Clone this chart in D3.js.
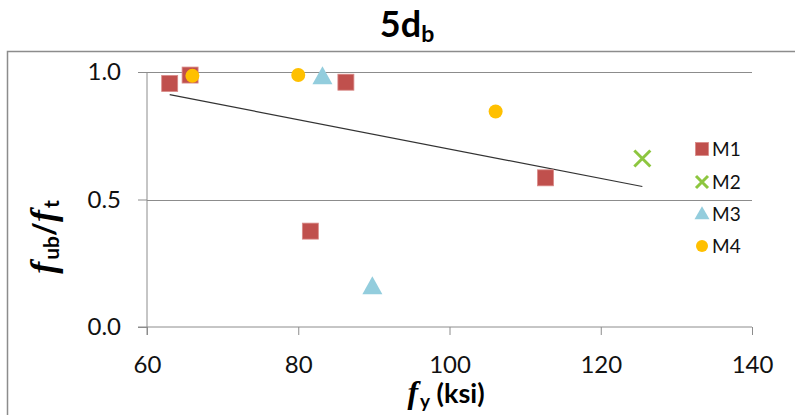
<!DOCTYPE html>
<html><head><meta charset="utf-8">
<script src="https://cdn.jsdelivr.net/npm/d3@7"></script>
<style>
html,body{margin:0;padding:0;background:#fff;}
svg{display:block;}
text{font-family:Lato,"Open Sans",sans-serif;}
</style></head>
<body>
<div id="chart"></div>
<script>
const title = "5d";
const titleSub = "b";
const seriesNames = ["M1","M2","M3","M4"];
const m1X = [63.0, 65.7, 86.3, 81.6, 112.7];
const m1Y = [0.955, 0.988, 0.960, 0.376, 0.585];
const m2X = [125.5];
const m2Y = [0.661];
const m3X = [83.2, 89.8];
const m3Y = [0.980, 0.157];
const m4X = [66.0, 80.0, 106.1];
const m4Y = [0.985, 0.988, 0.845];
const trendX = [63.0, 125.5];
const trendY = [0.911, 0.551];
const xTicks = [60, 80, 100, 120, 140];
const yTicks = [0.0, 0.5, 1.0];

const W = 795, H = 415;
const svg = d3.select("#chart").append("svg").attr("width", W).attr("height", H);

const x = d3.scaleLinear().domain([60, 140]).range([147, 752]);
const y = d3.scaleLinear().domain([0, 1]).range([327, 72]);

// outer frame
svg.append("rect").attr("x", 7.5).attr("y", 51.5).attr("width", 820).attr("height", 400)
  .attr("fill", "none").attr("stroke", "#8c8c8c").attr("stroke-width", 1.5);

// title
const t = svg.append("text").attr("x", 407).attr("y", 37).attr("text-anchor", "middle")
  .attr("font-size", 36).attr("font-weight", "bold").attr("fill", "#000");
t.append("tspan").text(title);
t.append("tspan").attr("font-size", 23).attr("dy", 5).text(titleSub);

// gridlines
svg.append("g").selectAll("line").data(yTicks.filter(d => d > 0)).join("line")
  .attr("x1", x(60)).attr("x2", x(140)).attr("y1", d => Math.round(y(d)) + 0.5).attr("y2", d => Math.round(y(d)) + 0.5)
  .attr("stroke", "#8c8c8c").attr("stroke-width", 1);

// axes
const yAxis = d3.axisLeft(y).tickValues(yTicks).tickFormat(d3.format(".1f")).tickSize(9).tickPadding(17);
const gy = svg.append("g").attr("transform", `translate(${x(60)},0)`).call(yAxis);
gy.select(".domain").attr("stroke", "#8c8c8c").attr("d", `M0,${y(1)}V${y(0)+8}`);
gy.selectAll(".tick line").attr("stroke", "#8c8c8c");
gy.selectAll("text").attr("font-size", 24).attr("fill", "#111").attr("font-family", "Lato");

const xAxis = d3.axisBottom(x).tickValues(xTicks).tickSize(8).tickPadding(21);
const gx = svg.append("g").attr("transform", `translate(0,${y(0)})`).call(xAxis);
gx.select(".domain").attr("stroke", "#8c8c8c").attr("d", `M${x(60)-9},0H${x(140)}`);
gx.selectAll(".tick line").attr("stroke", "#8c8c8c");
gx.selectAll("text").attr("font-size", 24).attr("fill", "#111").attr("font-family", "Lato");

// axis titles
const xl = svg.append("text").attr("x", 446).attr("y", 403).attr("text-anchor", "middle")
  .attr("font-size", 27).attr("font-weight", "bold").attr("fill", "#000");
xl.append("tspan").attr("font-family", "Liberation Serif").attr("font-size", 32).attr("font-style", "italic").text("f");
xl.append("tspan").attr("font-size", 19).attr("dy", 5).attr("dx", 2).text("y");
xl.append("tspan").attr("dy", -5).text(" (ksi)");

const yl = svg.append("text").attr("transform", "translate(55,237) rotate(-90)").attr("text-anchor", "middle")
  .attr("font-size", 30).attr("font-weight", "bold").attr("fill", "#000");
yl.append("tspan").attr("font-family", "Liberation Serif").attr("font-size", 36).attr("font-style", "italic").text("f");
yl.append("tspan").attr("font-size", 21).attr("dy", 4).attr("dx", 2).text("ub");
yl.append("tspan").attr("dy", -4).text("/");
yl.append("tspan").attr("font-family", "Liberation Serif").attr("font-size", 36).attr("font-style", "italic").text("f");
yl.append("tspan").attr("font-size", 21).attr("dy", 4).attr("dx", 2).text("t");

// trendline
svg.append("path").datum(trendX.map((v, i) => [v, trendY[i]]))
  .attr("d", d3.line().x(d => x(d[0])).y(d => y(d[1])))
  .attr("stroke", "#333").attr("stroke-width", 1.2).attr("fill", "none");

// markers
const sq = 16;
function drawSquares(g, pts, s) {
  g.selectAll("rect.m1").data(pts).join("rect").attr("class", "m1")
    .attr("x", d => d[0] - s / 2).attr("y", d => d[1] - s / 2).attr("width", s).attr("height", s)
    .attr("fill", "#C0504D").attr("stroke", "#d98a88").attr("stroke-width", 0.8);
}
function drawX(g, pts, s) {
  pts.forEach(p => {
    g.append("path").attr("d", `M${p[0]-s/2},${p[1]-s/2}L${p[0]+s/2},${p[1]+s/2}M${p[0]-s/2},${p[1]+s/2}L${p[0]+s/2},${p[1]-s/2}`)
      .attr("stroke", "#8DC63F").attr("stroke-width", 3).attr("fill", "none");
  });
}
function drawTri(g, pts, w, h) {
  pts.forEach(p => {
    g.append("path").attr("d", `M${p[0]},${p[1]-h*0.6}L${p[0]+w/2},${p[1]+h*0.4}L${p[0]-w/2},${p[1]+h*0.4}Z`)
      .attr("fill", "#93CDDD");
  });
}
function drawCirc(g, pts, r) {
  g.selectAll("circle.m4").data(pts).join("circle").attr("class", "m4")
    .attr("cx", d => d[0]).attr("cy", d => d[1]).attr("r", r).attr("fill", "#FFC000");
}

const gm = svg.append("g");
drawSquares(gm.append("g"), m1X.map((v, i) => [x(v), y(m1Y[i])]), sq);
drawX(gm.append("g"), m2X.map((v, i) => [x(v), y(m2Y[i])]), 16);
drawTri(gm.append("g"), m3X.map((v, i) => [x(v), y(m3Y[i])]), 20, 18);
drawCirc(gm.append("g"), m4X.map((v, i) => [x(v), y(m4Y[i])]), 7);

// legend
const lg = svg.append("g");
const ly = [149, 182, 214, 246];
const lx = 702;
drawSquares(lg.append("g"), [[lx, ly[0]]], 13);
drawX(lg.append("g"), [[lx, ly[1]]], 12);
drawTri(lg.append("g"), [[lx, ly[2]]], 15, 13);
drawCirc(lg.append("g"), [[lx, ly[3]]], 6);
lg.selectAll("text.lab").data(seriesNames).join("text").attr("class", "lab")
  .attr("x", 712).attr("y", (d, i) => ly[i] + 7).attr("font-size", 19).attr("fill", "#111").text(d => d);
</script>
</body></html>
